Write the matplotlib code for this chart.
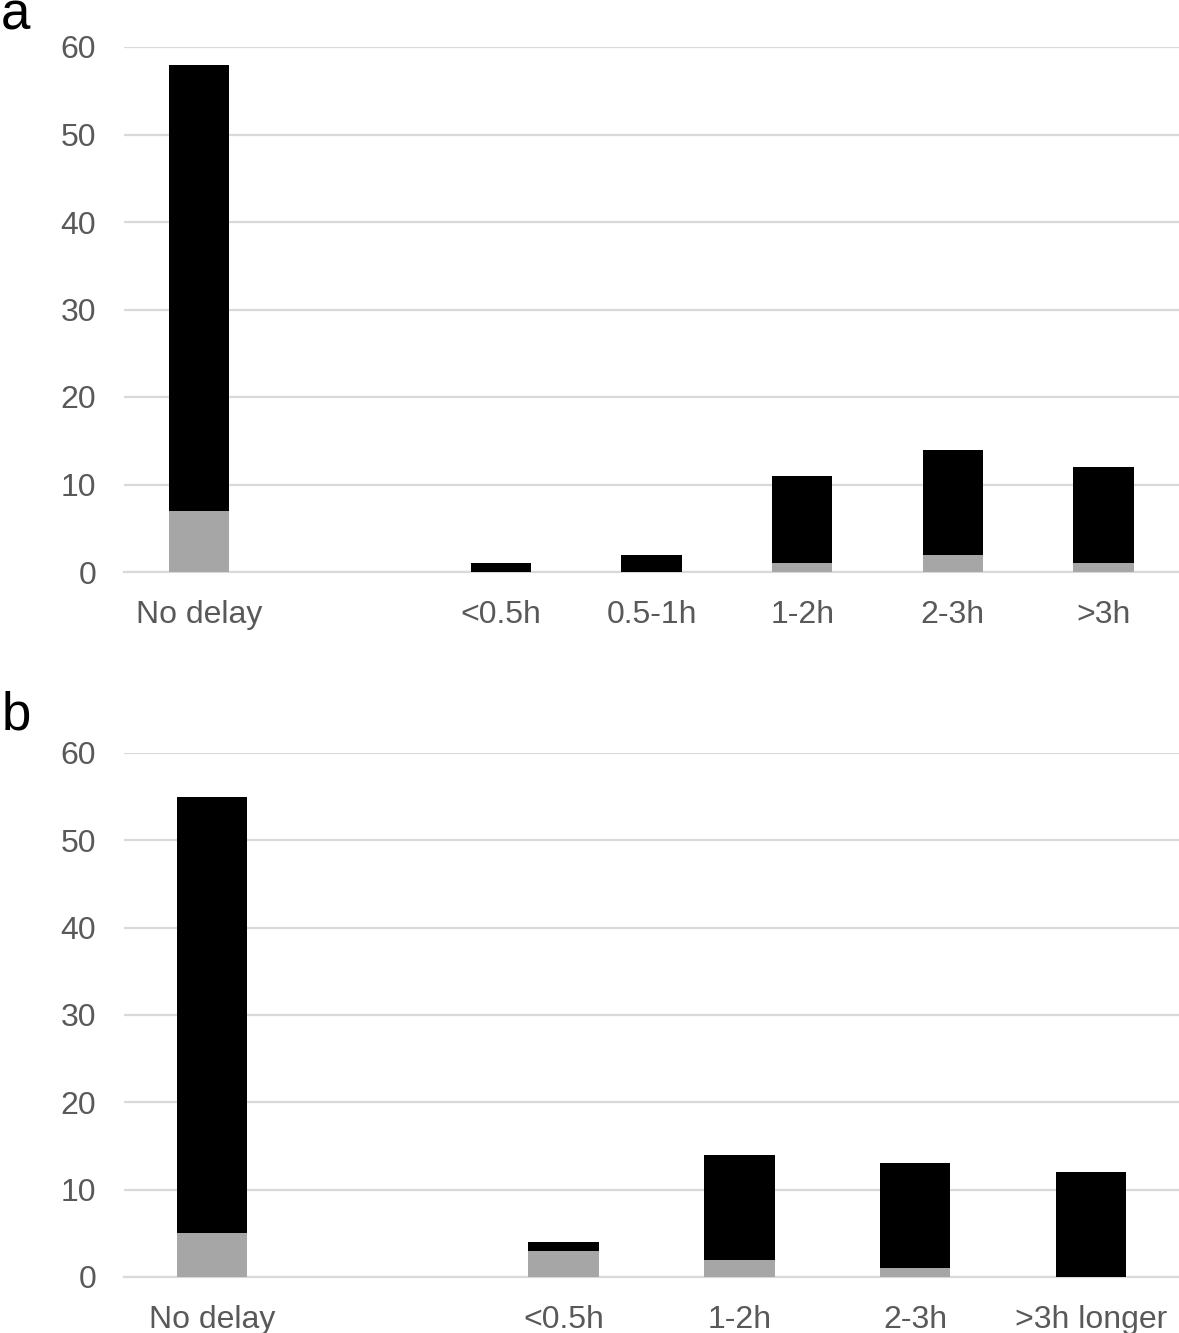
import matplotlib
matplotlib.use("Agg")
import matplotlib.pyplot as plt

plt.rcParams['font.family'] = ['Liberation Sans', 'DejaVu Sans']

cats_a = ["No delay", "", "<0.5h", "0.5-1h", "1-2h", "2-3h", ">3h"]
gray_a = [7, 0, 0, 0, 1, 2, 1]
black_a = [51, 0, 1, 2, 10, 12, 11]

cats_b = ["No delay", "", "<0.5h", "1-2h", "2-3h", ">3h longer"]
gray_b = [5, 0, 3, 2, 1, 0]
black_b = [50, 0, 1, 12, 12, 12]

yticks = [0, 10, 20, 30, 40, 50, 60]

W, H = 1179, 1333
fig = plt.figure(figsize=(W / 100, H / 100), dpi=100)

def panel(rect, cats, gray, black):
    ax = fig.add_axes(rect)
    x = list(range(len(cats)))
    ax.bar(x, gray, width=0.4, color="#a6a6a6", zorder=3)
    ax.bar(x, black, bottom=gray, width=0.4, color="#000000", zorder=3)
    ax.set_xlim(-0.5, len(cats) - 0.5)
    ax.set_ylim(0, 60)
    ax.set_yticks(yticks)
    ax.set_xticks(x)
    ax.set_xticklabels(cats)
    ax.grid(axis="y", color="#d9d9d9", linewidth=1.6, zorder=0)
    for s in ["top", "right", "left"]:
        ax.spines[s].set_visible(False)
    ax.spines["bottom"].set_color("#d9d9d9")
    ax.spines["bottom"].set_linewidth(1.6)
    ax.tick_params(axis="both", length=0, labelsize=23, colors="#595959")
    ax.tick_params(axis="y", pad=20)
    ax.tick_params(axis="x", pad=20)
    return ax

axa = panel([124 / W, 1 - 572 / H, 1055 / W, 525 / H], cats_a, gray_a, black_a)
axb = panel([124 / W, 1 - 1277 / H, 1055 / W, 524 / H], cats_b, gray_b, black_b)

fig.text(0.001, 1 - 30 / H, "a", fontsize=38, color="black", ha="left", va="baseline")
fig.text(0.001, 1 - 730 / H, "b", fontsize=38, color="black", ha="left", va="baseline")

fig.savefig("out.png", dpi=100)
